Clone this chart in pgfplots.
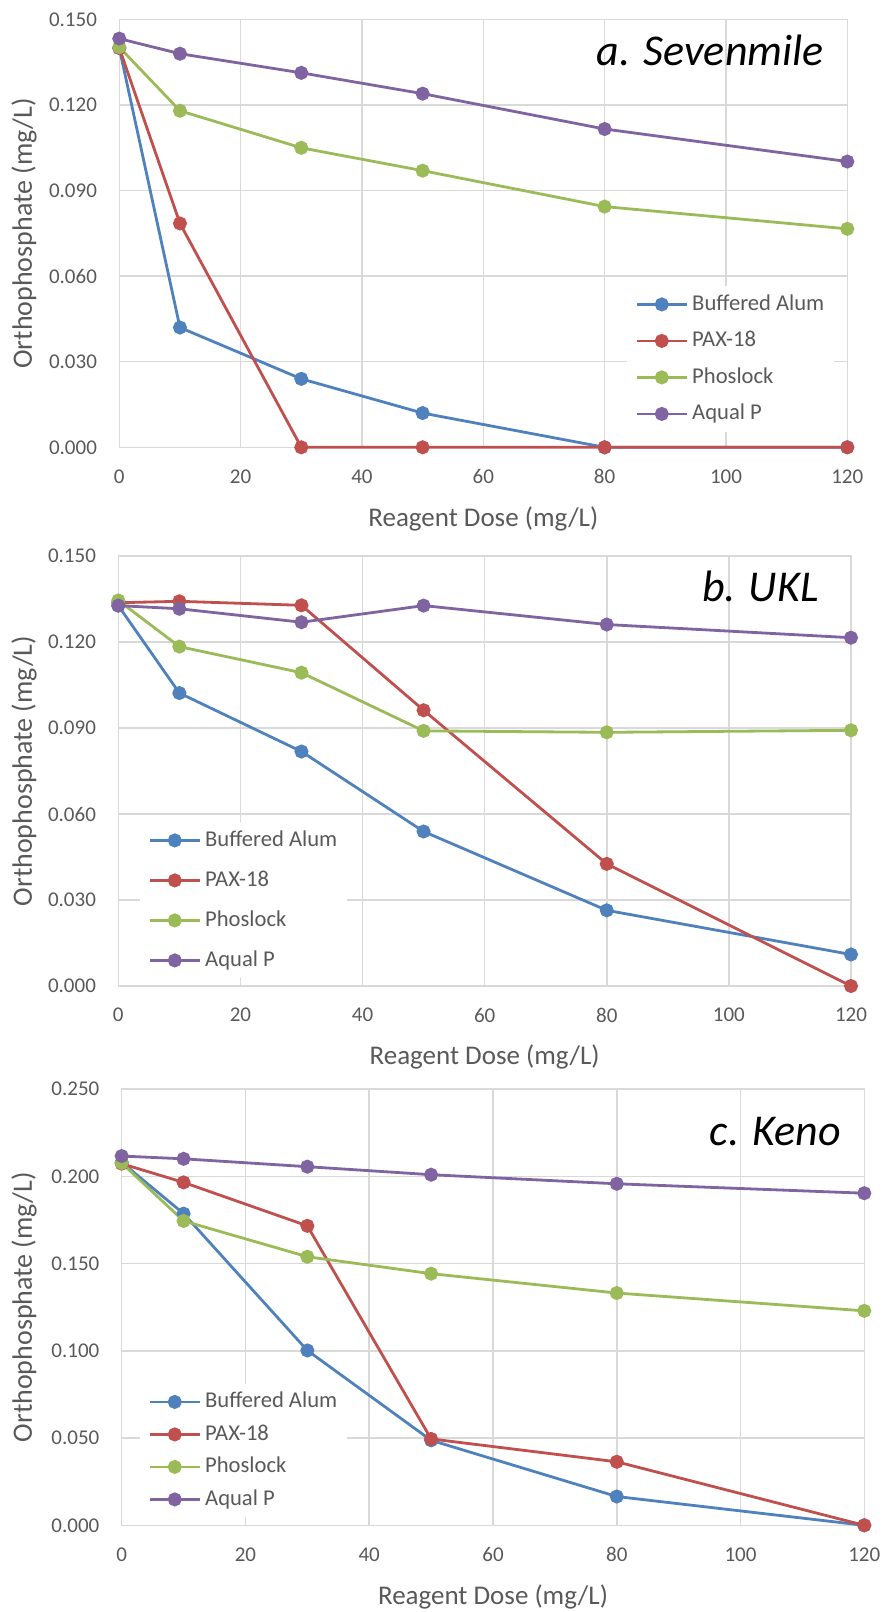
\documentclass[border=0pt]{standalone}
\usepackage{fontspec}
\setmainfont{Carlito}
\usepackage{pgfplots}
\pgfplotsset{compat=1.18}

\definecolor{alum}{HTML}{4F81BD}
\definecolor{pax}{HTML}{C0504D}
\definecolor{phos}{HTML}{9BBB59}
\definecolor{aqual}{HTML}{8064A2}
\definecolor{gridgray}{HTML}{D9D9D9}
\definecolor{textgray}{HTML}{595959}

\pgfplotsset{
  doseaxis/.style={
    scale only axis,
    xmin=0, xmax=120, ymin=0,
    xtick={0,20,40,60,80,100,120},
    scaled y ticks=false,
    grid=major,
    major grid style={draw=gridgray, line width=0.75pt},
    axis line style={draw=gridgray, line width=0.75pt},
    major tick length=0pt,
    tick style={draw=none},
    clip=false,
    /pgf/number format/assume math mode=true,
    tick label style={font=\fontsize{10.5}{12}\selectfont, text=textgray},
    xticklabel style={anchor=north, inner sep=0pt, yshift=-10.9pt},
    yticklabel style={anchor=east, inner sep=0pt, xshift=-11pt,
      /pgf/number format/.cd, fixed, fixed zerofill, precision=3},
    legend cell align=left,
    legend style={draw=none, fill=white, inner sep=4pt, anchor=north west,
      font=\fontsize{11.3}{13}\selectfont, text=textgray,
      nodes={inner ysep=0pt, inner xsep=1pt, text height=8pt, text depth=2pt, anchor=west},
      /tikz/every odd column/.style={column sep=1pt}},
    legend image code/.code={\draw[mark repeat=2, mark phase=2, ##1]
      plot coordinates {(0pt,0pt) (12.5pt,0pt) (25pt,0pt)};},
    every axis plot/.append style={line width=1.4pt, mark=*, mark size=2.8pt, mark options={solid}},
  },
}
\tikzset{
  paneltitle/.style={anchor=base east, inner sep=0pt, font=\itshape\fontsize{22}{26}\selectfont},
  xtitle/.style={anchor=center, inner sep=0pt, text=textgray, font=\fontsize{13.5}{16}\selectfont},
  ytitle/.style={anchor=center, inner sep=0pt, rotate=90, text=textgray, font=\fontsize{14}{16}\selectfont},
}

\begin{document}
\begin{tikzpicture}
\path[use as bounding box] (0,0) rectangle (442pt,-806pt);

% a. Sevenmile
\begin{axis}[doseaxis, at={(59.65pt,-223.65pt)}, anchor=south west,
  width=364pt, height=213.9pt, ymax=0.15,
  ytick={0,0.03,0.06,0.09,0.12,0.15},
  legend style={at={(0.6974,0.377)}, row sep=8.25pt}]
\addplot[color=alum] coordinates {(0,0.140) (10,0.042) (30,0.024) (50,0.012) (80,0) (120,0)};
\addplot[color=pax] coordinates {(0,0.140) (10,0.0785) (30,0) (50,0) (80,0) (120,0)};
\addplot[color=phos] coordinates {(0,0.1403) (10,0.118) (30,0.105) (50,0.097) (80,0.0844) (120,0.0766)};
\addplot[color=aqual] coordinates {(0,0.1433) (10,0.138) (30,0.1313) (50,0.124) (80,0.1116) (120,0.1002)};
\legend{Buffered Alum, PAX-18, Phoslock, Aqual P}
\end{axis}

% b. UKL
\begin{axis}[doseaxis, at={(59.15pt,-493pt)}, anchor=south west,
  width=366.35pt, height=215pt, ymax=0.15,
  ytick={0,0.03,0.06,0.09,0.12,0.15},
  legend style={at={(0.0296,0.3814)}, row sep=10pt}]
\addplot[color=alum] coordinates {(0,0.1327) (10,0.1022) (30,0.0818) (50,0.0539) (80,0.0264) (120,0.011)};
\addplot[color=pax] coordinates {(0,0.1337) (10,0.1342) (30,0.1328) (50,0.0962) (80,0.0426) (120,0)};
\addplot[color=phos] coordinates {(0,0.1345) (10,0.1184) (30,0.1093) (50,0.089) (80,0.0885) (120,0.0892)};
\addplot[color=aqual] coordinates {(0,0.1327) (10,0.1316) (30,0.1269) (50,0.1327) (80,0.1261) (120,0.1215)};
\legend{Buffered Alum, PAX-18, Phoslock, Aqual P}
\end{axis}

% c. Keno
\begin{axis}[doseaxis, at={(60.85pt,-762.65pt)}, anchor=south west,
  width=371.3pt, height=218.15pt, ymax=0.25,
  ytick={0,0.05,0.1,0.15,0.2,0.25},
  legend style={at={(0.0246,0.325)}, row sep=6.25pt}]
\addplot[color=alum] coordinates {(0,0.208) (10,0.1786) (30,0.1002) (50,0.0487) (80,0.0165) (120,0)};
\addplot[color=pax] coordinates {(0,0.2072) (10,0.1965) (30,0.1716) (50,0.0495) (80,0.0364) (120,0)};
\addplot[color=phos] coordinates {(0,0.2076) (10,0.1744) (30,0.1539) (50,0.1442) (80,0.1331) (120,0.1229)};
\addplot[color=aqual] coordinates {(0,0.2116) (10,0.21) (30,0.2055) (50,0.2009) (80,0.1957) (120,0.1903)};
\legend{Buffered Alum, PAX-18, Phoslock, Aqual P}
\end{axis}

% panel titles and axis titles
\node[paneltitle] at (412pt,-32.9pt) {a. Sevenmile};
\node[paneltitle] at (409.5pt,-300.85pt) {b. UKL};
\node[paneltitle] at (420.5pt,-572.5pt) {c. Keno};

\node[xtitle] at (241.65pt,-259.3pt) {Reagent Dose (mg/L)};
\node[xtitle] at (242.3pt,-528.65pt) {Reagent Dose (mg/L)};
\node[xtitle] at (246.5pt,-798.3pt) {Reagent Dose (mg/L)};

\node[ytitle] at (12pt,-116.7pt) {Orthophosphate (mg/L)};
\node[ytitle] at (12pt,-385.5pt) {Orthophosphate (mg/L)};
\node[ytitle] at (12pt,-653.5pt) {Orthophosphate (mg/L)};
\end{tikzpicture}
\end{document}
